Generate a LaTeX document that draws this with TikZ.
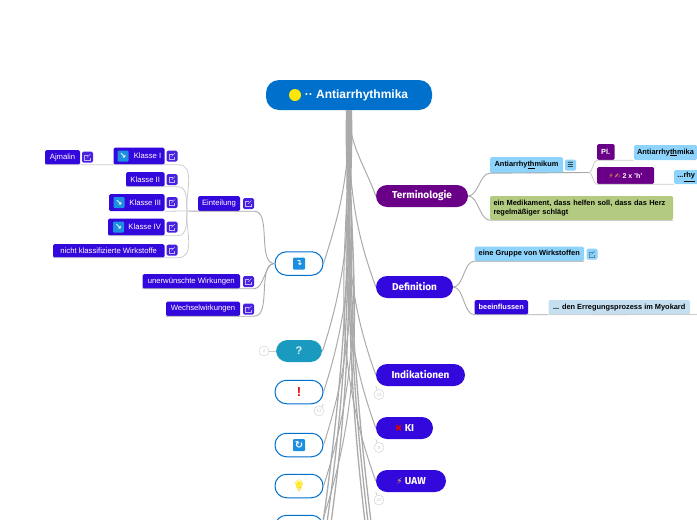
\documentclass[tikz,border=0pt]{standalone}
\usepackage{fontspec}
\setmainfont{Liberation Sans}
\newfontfamily\emojifont{Noto Emoji}
\newfontfamily\symfont{DejaVu Sans}
\newfontfamily\headfont{Fira Sans}
\usetikzlibrary{calc, positioning, shapes}
\definecolor{rootblue}{HTML}{0070CD}
\definecolor{iconblue}{HTML}{1C8FE0}
\definecolor{mapblue}{HTML}{3308DC}
\definecolor{mappurple}{HTML}{6A0088}
\definecolor{skyblue}{HTML}{8DD3FB}
\definecolor{paleblue}{HTML}{C5DFF0}
\definecolor{leafgreen}{HTML}{B2CB80}
\definecolor{teal}{HTML}{1A9ABF}
\definecolor{trunkgray}{HTML}{AAAAAA}
\definecolor{twiggray}{HTML}{CCCCCC}
\definecolor{boltorange}{HTML}{F2B33D}
\tikzset{
  mainbox/.style={rounded corners=11pt, fill=mapblue, text=white, inner sep=0pt, minimum height=22pt, font=\headfont\bfseries\fontsize{10}{12}\selectfont},
  iconbox/.style={rounded corners=11.5pt, draw=rootblue, line width=1pt, fill=white, inner sep=0pt, minimum width=48pt, minimum height=23.5pt},
  leafbox/.style={rounded corners=1.5pt, fill=mapblue, text=white, inner sep=0pt, font=\fontsize{7.7}{8}\selectfont},
  skybox/.style={leafbox, fill=skyblue, text=black, font=\bfseries\fontsize{7.4}{8.5}\selectfont},
  extbox/.style={rounded corners=1.5pt, inner sep=0pt, minimum size=11pt},
  squareicon/.style={rounded corners=1pt, fill=iconblue, text=white, inner sep=0pt, minimum size=11pt, font=\symfont\bfseries\fontsize{8}{8}\selectfont},
  countbox/.style={circle, draw=twiggray, fill=white, text=twiggray, inner sep=0pt, minimum size=10pt, font=\fontsize{4.5}{5}\selectfont},
  trunk/.style={draw=trunkgray, line width=1pt},
  twig/.style={draw=twiggray, line width=.8pt},
  branch/.style={draw=trunkgray, line width=.9pt}
}
\newcommand{\extlink}[4]{
  \node[extbox, fill=#3] (#1) at (#2) {};
  \draw[#4, line width=.45pt] ($(#1)+(.5,2)$) -- ($(#1)+(-3,2)$) -- ($(#1)+(-3,-3)$) -- ($(#1)+(2.5,-3)$) -- ($(#1)+(2.5,-.5)$);
  \draw[#4, line width=.45pt] ($(#1)+(-.5,-.5)$) -- ($(#1)+(3,3)$);
}
\newcommand{\blueext}[2]{\extlink{#1}{#2}{white!10!mapblue}{white!70!mapblue}}
\begin{document}
\begin{tikzpicture}[x=1pt,y=1pt]
\useasboundingbox (0,0) rectangle (697,-520);
\clip (0,0) rectangle (697,-520);
\fill[white] (0,0) rectangle (697,-520);

\coordinate (offa) at (322,-530);
\coordinate (offb) at (326,-530);
\coordinate (offc) at (330,-530);
\coordinate (offd) at (366,-530);
\coordinate (offe) at (369,-530);
\coordinate (offf) at (372,-530);
\coordinate (offg) at (323,-519);

\node[rounded corners=13pt, fill=rootblue, text=white, inner sep=0pt, minimum width=166pt, minimum height=30pt, font=\bfseries\fontsize{12}{14}\selectfont] (root) at (349,-95) {\hspace*{15pt}·· Antiarrhythmika};
\node[circle, fill=yellow!90!orange, inner sep=0pt, minimum size=12pt] (sun) at (295,-95) {};

\node[mainbox, fill=mappurple, minimum width=92pt] (terminologie) at (422,-196) {Terminologie};
\node[mainbox, minimum width=77pt] (definition) at (414.5,-287) {Definition};
\node[mainbox, minimum width=89pt] (indikationen) at (420.5,-375) {Indikationen};
\node[mainbox, minimum width=57pt] (ki) at (404.5,-428) {\textcolor{red!85!black}{\symfont\fontsize{9}{9}\selectfont ✖}\ KI};
\node[mainbox, minimum width=70pt] (uaw) at (411,-481) {\textcolor{boltorange}{\symfont\fontsize{9}{9}\selectfont ⚡}\ UAW};

\node[iconbox] (einteilen) at (299,-263.5) {};
\node[squareicon, minimum size=12pt] (einteilenicon) at (299,-263.5) {↴};
\node[iconbox, draw=none, fill=teal, minimum width=46pt, minimum height=22pt, text=white!85!teal, font=\bfseries\fontsize{11}{12}\selectfont] (frage) at (299,-351) {?};
\node[iconbox, text=red!90!black, font=\bfseries\fontsize{13}{14}\selectfont] (ausruf) at (299,-392) {!};
\node[iconbox] (wieder) at (299,-445) {};
\node[squareicon, minimum size=12pt, font=\symfont\bfseries\fontsize{10}{10}\selectfont] (wiedericon) at (299,-445) {↻};
\node[iconbox] (idee) at (299,-486) {};
\node[circle, fill=yellow!70, inner sep=0pt, minimum size=7pt] (ideeglow) at (299,-484.5) {};
\node[inner sep=0pt, text=yellow!70!orange, font=\emojifont\fontsize{11}{12}\selectfont] (ideeicon) at (299,-486) {💡};
\node[iconbox] (letzte) at (299,-527) {};

\fill[trunkgray] ($(root.south)+(-3,0)$) -- ($(root.south)+(3,0)$) to[out=-88, in=90] (351.5,-190) -- (346.5,-190) to[out=90, in=-92] cycle;
\foreach \y in {terminologie.west, definition.west, indikationen.west, ki.west, uaw.west}
  \draw[trunk] (root.south) to[out=-90, in=110] (\y);
\foreach \y in {offa, offb, offc}
  \draw[trunk, line width=1.3pt] (root.south) to[out=-90, in=82] (\y);
\foreach \y in {offd, offe, offf}
  \draw[trunk, line width=1.3pt] (root.south) to[out=-90, in=97] (\y);
\foreach \y in {einteilen.east, frage.east, ausruf.east, wieder.east, idee.east, offg}
  \draw[trunk] (root.south) to[out=-90, in=72] (\y);

\node[leafbox, minimum width=42pt, minimum height=15pt] (einteilung) at (219,-203.5) {Einteilung};
\blueext{einteilungext}{248.5,-203.5}
\node[leafbox, minimum width=97.5pt, minimum height=14.5pt] (unerwuenscht) at (191.25,-281.25) {unerwünschte Wirkungen};
\blueext{unerwuenschtext}{248.5,-281.5}
\node[leafbox, minimum width=74pt, minimum height=14.5pt] (wechsel) at (203,-308.75) {Wechselwirkungen};
\blueext{wechselext}{248.5,-309}

\node[leafbox, minimum width=51pt, minimum height=17pt] (klasseeins) at (139,-156) {\hspace*{17pt}Klasse I};
\node[squareicon] (klasseeinsicon) at (123,-156) {↘};
\blueext{klasseeinsext}{172,-156}
\node[leafbox, minimum width=38.5pt, minimum height=14.5pt] (klassezwei) at (145.25,-179.25) {Klasse II};
\blueext{klassezweiext}{172,-179.5}
\node[leafbox, minimum width=55.5pt, minimum height=17pt] (klassedrei) at (136.75,-202.5) {\hspace*{17pt}Klasse III};
\node[squareicon] (klassedreiicon) at (119,-202.5) {↘};
\blueext{klassedreiext}{172,-202.5}
\node[leafbox, minimum width=56.5pt, minimum height=17pt] (klassevier) at (136.25,-227) {\hspace*{17pt}Klasse IV};
\node[squareicon] (klassevierioon) at (118.5,-227) {↘};
\blueext{klassevierext}{172,-227}
\node[leafbox, minimum width=111.5pt, minimum height=13.5pt] (nichtklass) at (108.75,-250.75) {nicht klassifizierte Wirkstoffe};
\blueext{nichtklassext}{172,-250}
\node[leafbox, minimum width=35pt, minimum height=14.5pt] (ajmalin) at (62.5,-157.25) {Ajmalin};
\blueext{ajmalinext}{87.5,-157}

\draw[branch] (einteilen.west) to[out=180, in=0, looseness=.8] (einteilung.south -| einteilungext.east) -- (einteilung.south west);
\draw[branch] (einteilen.west) to[out=180, in=0, looseness=.8] (unerwuenscht.south -| unerwuenschtext.east) -- (unerwuenscht.south west);
\draw[branch] (einteilen.west) to[out=180, in=0, looseness=.8] (wechsel.south -| wechselext.east) -- (wechsel.south west);
\coordinate (einteilungfork) at (187,-211);
\draw[branch] (einteilung.south west) -- (einteilungfork);
\draw[twig] (einteilungfork) to[out=95, in=0] (klasseeins.south -| klasseeinsext.east) -- (ajmalin.south west);
\draw[twig] (einteilungfork) to[out=95, in=0] (klassezwei.south -| klassezweiext.east) -- (klassezwei.south west);
\draw[twig] (einteilungfork) -- (klassedrei.south east);
\draw[twig] (einteilungfork) to[out=-95, in=0] (klassevier.south -| klassevierext.east) -- (klassevier.south west);
\draw[twig] (einteilungfork) to[out=-95, in=0] (nichtklass.south -| nichtklassext.east) -- (nichtklass.south west);

\node[countbox] (fragecount) at (264,-351) {2};
\draw[twig] (fragecount) -- (frage);
\node[countbox] (ausrufcount) at (319,-411) {13};
\draw[twig] (ausruf.south east) -- (ausrufcount);
\node[countbox] (indikationencount) at (379,-394.5) {19};
\draw[twig] (indikationen.south west) -- (indikationencount);
\node[countbox] (kicount) at (379,-447.5) {8};
\draw[twig] (ki.south west) -- (kicount);
\node[countbox] (uawcount) at (379,-500) {22};
\draw[twig] (uaw.south west) -- (uawcount);

\node[skybox, minimum width=73pt, minimum height=16pt] (antimikum) at (526.5,-165) {Antiarrhy\underline{th}mikum};
\node[rounded corners=1.5pt, fill=skyblue, inner sep=0pt, minimum size=11pt, font=\symfont\fontsize{7}{8}\selectfont] (antimenu) at (570.5,-165) {☰};
\node[leafbox, fill=mappurple, minimum width=17.5pt, minimum height=16pt, font=\bfseries\fontsize{7.4}{8}\selectfont] (pl) at (605.75,-152) {Pl.};
\node[skybox, minimum width=63pt, minimum height=15pt] (antimika) at (665.5,-152.5) {Antiarrhy\underline{th}mika};
\node[leafbox, fill=mappurple, minimum width=57pt, minimum height=17pt, font=\bfseries\fontsize{7}{8}\selectfont] (zweih) at (625.5,-175.5) {\textcolor{boltorange}{\symfont ⚡\,✍}\ 2 x 'h'};
\node[skybox, minimum width=40pt, minimum height=14pt, anchor=west] (rhy) at (674,-177) {\hspace*{-16pt}...\underline{rhy}};
\node[skybox, fill=leafgreen, minimum width=183pt, minimum height=24pt, align=left, text width=176pt] (medikament) at (581.5,-208) {ein Medikament, dass helfen soll, dass das Herz\\[1pt]regelmäßiger schlägt};
\coordinate (antifork) at (589,-172.5);
\draw[branch] (terminologie.east) to[out=0, in=180, looseness=.8] (antimikum.south west) -- (antifork);
\draw[branch] (terminologie.east) to[out=0, in=180, looseness=.8] (medikament.south west);
\draw[twig] (medikament.south west) -- (medikament.south east);
\draw[twig] (antifork) to[out=0, in=180, looseness=.6] (pl.south west) -- (antimika.south west);
\draw[twig] (antifork) to[out=0, in=180, looseness=.6] (zweih.south west) -- (rhy.south west);

\node[skybox, minimum width=109.5pt, minimum height=14.5pt] (gruppe) at (529.25,-253.75) {eine Gruppe von Wirkstoffen};
\extlink{gruppeext}{592,-254}{skyblue}{black!35!skyblue}
\node[leafbox, minimum width=53.5pt, minimum height=14.5pt, font=\bfseries\fontsize{7.4}{8}\selectfont] (beeinflussen) at (501.25,-307.25) {beeinflussen};
\node[skybox, fill=paleblue, minimum width=141.5pt, minimum height=14.5pt] (myokard) at (619.25,-307.25) {... den Erregungsprozess im Myokard};
\coordinate (myokardoff) at (700,-314.5);
\draw[branch] (definition.east) to[out=0, in=180, looseness=.8] (gruppe.south west) -- (gruppe.south east);
\draw[branch] (definition.east) to[out=0, in=180, looseness=.8] (beeinflussen.south west) -- (myokard.south west);
\draw[twig] (myokard.south west) -- (myokardoff);
\end{tikzpicture}
\end{document}
